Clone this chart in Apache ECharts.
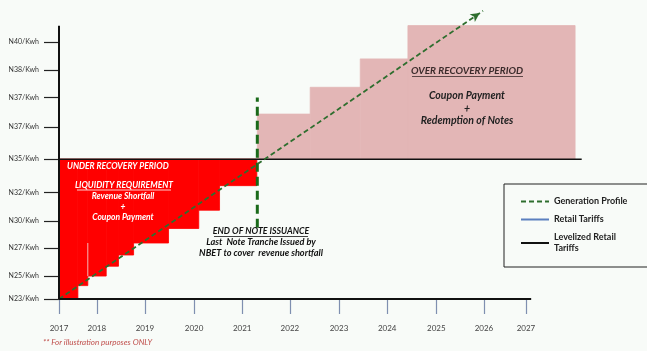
<!DOCTYPE html>
<html>
<head>
<meta charset="utf-8">
<script src="https://cdn.jsdelivr.net/npm/echarts@6/dist/echarts.min.js"></script>
<style>
  html, body { margin: 0; padding: 0; background: #f8fbf8; }
  #chart { width: 647px; height: 351px; }
</style>
</head>
<body>
<div id="chart"></div>
<script>
// axis ticks (schematic scale, not proportional to the tariff values)
const yearLabels = ['2017', '2018', '2019', '2020', '2021', '2022', '2023', '2024', '2025', '2026', '2027']
const yearTicks = [0, 0.80, 1.82, 2.86, 3.88, 4.89, 5.93, 6.95, 7.99, 9.00, 9.89]
const tariffLabels = ['N23/Kwh', 'N25/Kwh', 'N27/Kwh', 'N30/Kwh', 'N32/Kwh', 'N35/Kwh', 'N37/Kwh', 'N37/Kwh', 'N38/Kwh', 'N40/Kwh']
const tariffTicks = [0, 0.85, 1.86, 2.86, 3.89, 5.12, 6.29, 7.37, 8.38, 9.40]

// levelized tariff
const levelizedLevel = 5.12
const levelizedEnd = 11.07

// under recovery steps (retail tariff below levelized)
const underStart = [0, 0.40, 0.61, 1.00, 1.26, 1.58, 2.32, 2.96, 3.40]
const underFloor = [0, 0.49, 0.84, 1.20, 1.61, 2.05, 2.58, 3.25, 4.15]
const underEnd = 4.19

// over recovery steps (retail tariff above levelized)
const overStart = [4.20, 5.32, 6.38, 7.39]
const overTop = [6.77, 7.75, 8.79, 10.01]
const overEnd = 10.93

// generation profile
const generationX = [0, 8.98]
const generationY = [0, 10.55]

// end of note issuance marker
const noteEndX = 4.2
const noteEndY = [2.61, 7.38]

// faint tariff edge inside the red block
const edgeX = 0.61
const edgeY = [0.84, 2.05]

const buildSteps = (starts, end, lows, highs) => starts.map((x0, i) => [
  x0,
  i < starts.length - 1 ? starts[i + 1] : end,
  Array.isArray(lows) ? lows[i] : lows,
  Array.isArray(highs) ? highs[i] : highs
])

const underData = buildSteps(underStart, underEnd, underFloor, levelizedLevel)
const overData = buildSteps(overStart, overEnd, levelizedLevel, overTop)

const stepRect = (color) => (params, api) => {
  const p0 = api.coord([api.value(0), api.value(3)])
  const p1 = api.coord([api.value(1), api.value(2)])
  return {
    type: 'rect',
    shape: { x: p0[0], y: p0[1], width: p1[0] - p0[0], height: p1[1] - p0[1] },
    style: { fill: color, stroke: color, lineWidth: 0.8 }
  }
}

const GREEN = '#2e6e2e'
const FONT = 'Lato'

const txt = (x, y, text, opts = {}) => ({
  type: 'text',
  x, y,
  style: {
    text,
    fill: opts.color || '#111',
    font: `${opts.italic === false ? '' : 'italic '}${opts.weight || 'bold'} ${opts.size || 8.5}px ${FONT}`,
    align: opts.align || 'center',
    verticalAlign: 'middle'
  },
  z: 100
})

const underline = (x1, x2, y, color) => ({
  type: 'line',
  shape: { x1, y1: y, x2, y2: y },
  style: { stroke: color, lineWidth: 0.8 },
  z: 100
})

const chart = echarts.init(document.getElementById('chart'))

chart.setOption({
  animation: false,
  backgroundColor: '#f8fbf8',
  grid: { left: 59, right: 45, top: 4, bottom: 52 },
  xAxis: {
    type: 'value',
    min: 0,
    max: 11.5,
    axisLine: { show: false },
    splitLine: { show: false },
    axisTick: { show: true, customValues: yearTicks, length: 15, lineStyle: { color: '#7f8fb0', width: 1.2 } },
    axisLabel: {
      customValues: yearTicks,
      margin: 25,
      fontFamily: FONT,
      fontSize: 8,
      color: '#444',
      formatter: (v) => yearLabels[yearTicks.indexOf(v)]
    }
  },
  yAxis: {
    type: 'value',
    min: 0,
    max: 10.8,
    axisLine: { show: false },
    splitLine: { show: false },
    axisTick: { show: true, customValues: tariffTicks, length: 15, lineStyle: { color: '#222', width: 1.2 } },
    axisLabel: {
      customValues: tariffTicks,
      margin: 20,
      fontFamily: FONT,
      fontSize: 7,
      color: '#333',
      formatter: (v) => tariffLabels[tariffTicks.indexOf(v)]
    }
  },
  legend: {
    orient: 'vertical',
    left: 504,
    top: 184,
    padding: [12, 27, 13, 16],
    itemGap: 7,
    itemWidth: 28,
    itemHeight: 10,
    borderColor: '#222',
    borderWidth: 1,
    itemStyle: { opacity: 0 },
    data: ['Generation Profile', 'Retail Tariffs', 'Levelized Retail Tariffs'],
    formatter: (name) => name === 'Levelized Retail Tariffs' ? 'Levelized Retail\nTariffs' : name,
    textStyle: { fontFamily: FONT, fontWeight: 'bold', fontSize: 9, color: '#222', lineHeight: 11 }
  },
  series: [
    {
      type: 'custom',
      name: 'under',
      renderItem: stepRect('#ff0000'),
      data: underData,
      z: 1,
      silent: true
    },
    {
      type: 'custom',
      name: 'over',
      renderItem: stepRect('#e3b6b6'),
      data: overData,
      z: 1,
      silent: true
    },
    {
      type: 'line',
      name: 'tariff edge',
      data: edgeY.map(y => [edgeX, y]),
      symbol: 'none',
      lineStyle: { color: '#f6b4b4', width: 1 },
      z: 2
    },
    {
      type: 'line',
      name: 'Levelized Retail Tariffs',
      data: [[0, levelizedLevel], [levelizedEnd, levelizedLevel]],
      symbol: 'none',
      lineStyle: { color: '#111', width: 1.5 },
      itemStyle: { color: '#111' },
      z: 3
    },
    {
      type: 'line',
      name: 'Retail Tariffs',
      data: [],
      symbol: 'none',
      lineStyle: { color: '#5b7fbf', width: 2 },
      itemStyle: { color: '#5b7fbf' }
    },
    {
      type: 'line',
      name: 'note end',
      data: noteEndY.map(y => [noteEndX, y]),
      symbol: 'none',
      lineStyle: { color: '#1a6a1a', width: 3, type: [9, 5] },
      z: 4
    },
    {
      type: 'line',
      name: 'Generation Profile',
      data: generationX.map((x, i) => [x, generationY[i]]),
      symbol: 'none',
      lineStyle: { color: GREEN, width: 1.8, type: [5, 3] },
      itemStyle: { color: GREEN },
      markPoint: {
        symbol: 'arrow',
        symbolSize: [7, 9],
        symbolRotate: -56,
        silent: true,
        label: { show: false },
        itemStyle: { color: GREEN },
        data: [{ coord: [8.91, 10.47] }]
      },
      z: 5
    },
    {
      type: 'line',
      name: 'x axis',
      data: [[0, 0], [yearTicks[yearTicks.length - 1] + 0.11, 0]],
      symbol: 'none',
      lineStyle: { color: '#111', width: 2 },
      z: 6
    },
    {
      type: 'line',
      name: 'y axis',
      data: [[0, 0], [0, 10]],
      symbol: 'none',
      lineStyle: { color: '#111', width: 2 },
      z: 6
    }
  ],
  graphic: [
    txt(67, 166, 'UNDER RECOVERY PERIOD', { color: '#fff', align: 'left' }),
    txt(124, 185, 'LIQUIDITY REQUIREMENT', { color: '#fff' }),
    underline(77, 171, 190, '#fff'),
    txt(123, 196, 'Revenue Shortfall', { color: '#fff' }),
    txt(123, 207, '+', { color: '#fff' }),
    txt(123, 217, 'Coupon Payment', { color: '#fff' }),

    txt(261, 231, 'END OF NOTE ISSUANCE', { size: 8.8 }),
    underline(214, 308, 236.5, '#111'),
    txt(261, 242.5, 'Last  Note Tranche Issued by', { size: 9.2 }),
    txt(261, 253.5, 'NBET to cover  revenue shortfall', { size: 9.2 }),

    txt(467, 70.5, 'OVER RECOVERY PERIOD', { color: '#3b2b2b', size: 10 }),
    underline(412, 523, 76.5, '#3b2b2b'),
    txt(467, 96, 'Coupon Payment', { color: '#222', size: 10.5 }),
    txt(467, 109, '+', { color: '#222', size: 10.5 }),
    txt(467, 121, 'Redemption of Notes', { color: '#222', size: 10.5 }),

    txt(43, 342, '** For illustration purposes ONLY', { color: '#c0504d', weight: 'normal', size: 8, align: 'left' })
  ]
})
</script>
</body>
</html>
